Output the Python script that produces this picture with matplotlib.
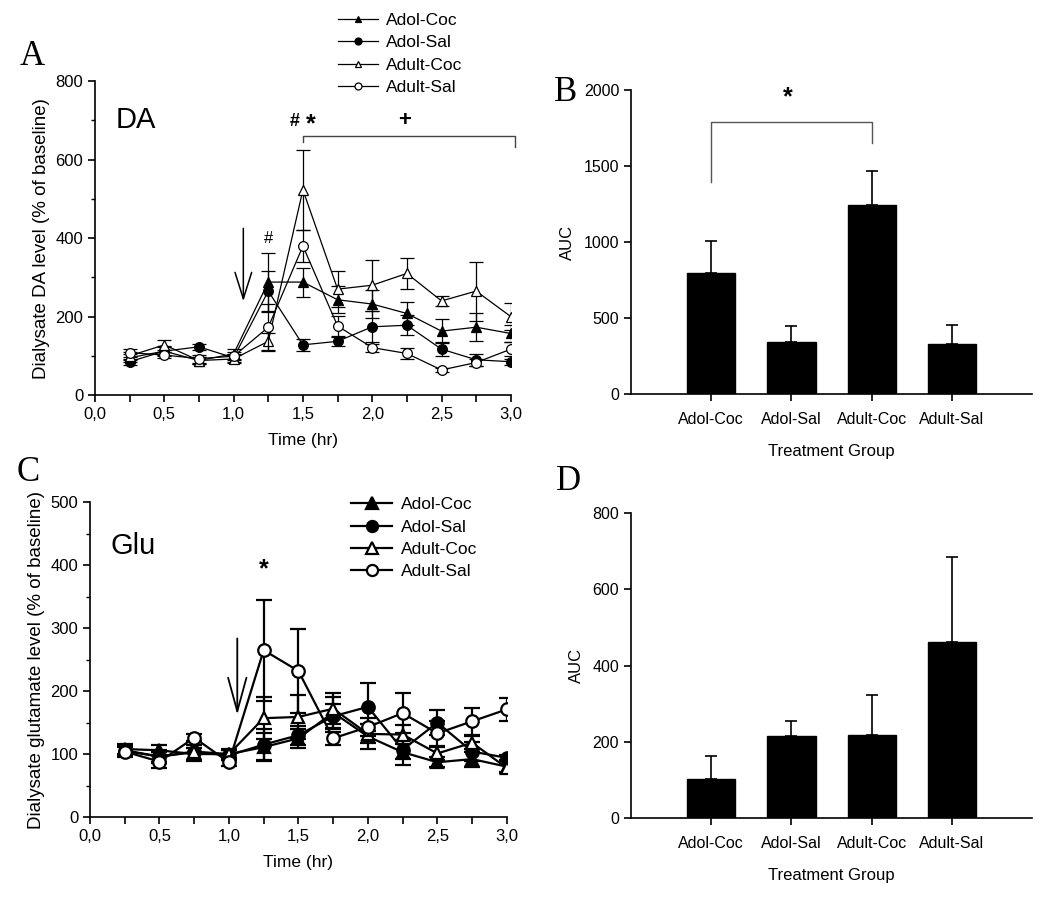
import numpy as np
import matplotlib.pyplot as plt
from matplotlib.lines import Line2D
from matplotlib.ticker import MultipleLocator, FuncFormatter

plt.rcParams['font.family'] = ['Liberation Sans', 'DejaVu Sans']

# time points (hr)
t = [0.25, 0.5, 0.75, 1.0, 1.25, 1.5, 1.75, 2.0, 2.25, 2.5, 2.75, 3.0]
groups = ['Adol-Coc', 'Adol-Sal', 'Adult-Coc', 'Adult-Sal']

# DA, % of baseline
adol_coc_da = [95, 112, 88, 105, 288, 288, 243, 232, 208, 163, 173, 157]
adol_coc_da_err = [10, 12, 8, 12, 75, 37, 35, 35, 30, 30, 35, 22]
adol_sal_da = [85, 112, 123, 95, 265, 128, 137, 174, 178, 117, 90, 85]
adol_sal_da_err = [8, 10, 8, 10, 50, 15, 12, 40, 25, 18, 15, 8]
adult_coc_da = [100, 128, 88, 92, 137, 523, 270, 280, 310, 240, 265, 200]
adult_coc_da_err = [10, 12, 8, 10, 22, 102, 45, 65, 40, 12, 75, 35]
adult_sal_da = [108, 102, 93, 99, 173, 380, 176, 121, 106, 64, 83, 117]
adult_sal_da_err = [10, 8, 10, 10, 60, 40, 25, 10, 15, 5, 10, 18]

# glutamate, % of baseline
adol_coc_glu = [108, 106, 100, 100, 111, 125, 166, 128, 103, 87, 92, 80]
adol_coc_glu_err = [8, 8, 10, 6, 22, 15, 25, 20, 20, 8, 12, 10]
adol_sal_glu = [105, 96, 103, 98, 115, 130, 160, 175, 107, 150, 104, 94]
adol_sal_glu_err = [8, 8, 12, 8, 25, 15, 20, 38, 15, 20, 15, 5]
adult_coc_glu = [106, 96, 104, 100, 157, 159, 172, 132, 131, 101, 118, 78]
adult_coc_glu_err = [8, 10, 15, 8, 33, 35, 25, 15, 15, 10, 10, 6]
adult_sal_glu = [104, 88, 126, 87, 265, 232, 125, 143, 165, 133, 152, 171]
adult_sal_glu_err = [8, 10, 6, 6, 80, 66, 10, 15, 32, 20, 21, 18]

# area under curve
auc_da = [795, 345, 1245, 330]
auc_da_err = [210, 105, 225, 128]
auc_glu = [102, 216, 218, 463]
auc_glu_err = [60, 39, 104, 222]

markers = ['^', 'o', '^', 'o']
faces = ['black', 'black', 'white', 'white']

fig = plt.figure(figsize=(10.5, 9.02), dpi=100)
axA = fig.add_axes([0.0905, 0.562, 0.396, 0.348])
axB = fig.add_axes([0.601, 0.563, 0.382, 0.337])
axC = fig.add_axes([0.0857, 0.0942, 0.397, 0.349])
axD = fig.add_axes([0.601, 0.0931, 0.382, 0.338])

comma = FuncFormatter(lambda v, p: ('%.1f' % v).replace('.', ','))


def line_panel(ax, series, errs, lw, ms, cap, ymax, ymaj, ymin):
    for i in range(4):
        ax.errorbar(t, series[i], yerr=errs[i], color='black', lw=lw,
                    marker=markers[i], mfc=faces[i], mec='black', mew=lw,
                    ms=ms, capsize=cap, capthick=lw, elinewidth=lw,
                    zorder=3 + i)
    ax.set_xlim(0, 3.0)
    ax.set_ylim(0, ymax)
    ax.xaxis.set_major_locator(MultipleLocator(0.5))
    ax.xaxis.set_minor_locator(MultipleLocator(0.25))
    ax.xaxis.set_major_formatter(comma)
    ax.yaxis.set_major_locator(MultipleLocator(ymaj))
    ax.yaxis.set_minor_locator(MultipleLocator(ymin))
    for s in ['top', 'right']:
        ax.spines[s].set_visible(False)
    for s in ['left', 'bottom']:
        ax.spines[s].set_linewidth(1.2)
    ax.tick_params(which='major', direction='out', length=5, width=1.2,
                   labelsize=12)
    ax.tick_params(axis='x', which='minor', direction='out', length=5, width=1.2)
    ax.tick_params(axis='y', which='minor', direction='out', length=3, width=1.0)
    ax.set_xlabel('Time (hr)', fontsize=12.5, labelpad=8)


def legend_handles(lw, ms):
    return [Line2D([], [], color='black', lw=lw, marker=markers[i],
                   mfc=faces[i], mec='black', mew=lw, ms=ms) for i in range(4)]


line_panel(axA, [adol_coc_da, adol_sal_da, adult_coc_da, adult_sal_da],
           [adol_coc_da_err, adol_sal_da_err, adult_coc_da_err, adult_sal_da_err],
           0.9, 7, 5, 800, 200, 100)
axA.set_ylabel('Dialysate DA level (% of baseline)', fontsize=13.5, labelpad=4)
axA.text(0.15, 700, 'DA', fontsize=21, va='center')
axA.text(1.25, 400, '#', fontsize=12, ha='center', va='center')
axA.text(1.44, 698, '#', fontsize=13, ha='center', va='center', fontweight='bold')
axA.text(1.56, 690, '*', fontsize=18, ha='center', va='center', fontweight='bold')
axA.text(2.23, 700, '+', fontsize=16, ha='center', va='center', fontweight='bold')
axA.plot([1.5, 1.5, 3.03, 3.03], [645, 660, 660, 633], color='#444444',
         lw=1.0, clip_on=False)
axA.annotate('', xy=(1.07, 232), xytext=(1.07, 432),
             arrowprops=dict(arrowstyle='->,head_length=0.95,head_width=0.3',
                             mutation_scale=20, lw=1.1, color='black'))
fig.legend(legend_handles(0.9, 5), groups, loc='upper left',
           bbox_to_anchor=(0.322, 0.986), frameon=False, fontsize=12.5,
           handlelength=2.3, handletextpad=0.45, labelspacing=0.42,
           borderpad=0, borderaxespad=0)

line_panel(axC, [adol_coc_glu, adol_sal_glu, adult_coc_glu, adult_sal_glu],
           [adol_coc_glu_err, adol_sal_glu_err, adult_coc_glu_err, adult_sal_glu_err],
           1.6, 9, 6, 500, 100, 50)
axC.set_ylabel('Dialysate glutamate level (% of baseline)', fontsize=13.5, labelpad=4)
axC.text(0.15, 430, 'Glu', fontsize=21, va='center')
axC.text(1.25, 393, '*', fontsize=18, ha='center', va='center', fontweight='bold')
axC.annotate('', xy=(1.06, 158), xytext=(1.06, 288),
             arrowprops=dict(arrowstyle='->,head_length=1.1,head_width=0.3',
                             mutation_scale=22, lw=1.3, color='black'))
fig.legend(legend_handles(1.6, 8), groups, loc='upper left',
           bbox_to_anchor=(0.334, 0.449), frameon=False, fontsize=12.5,
           handlelength=2.4, handletextpad=0.5, labelspacing=0.42,
           borderpad=0, borderaxespad=0)


def bar_panel(ax, vals, errs, ymax, ymaj):
    x = np.arange(len(groups))
    ax.bar(x, vals, width=0.6, color='black', edgecolor='black')
    ax.errorbar(x, vals, yerr=[np.zeros(len(vals)), errs], fmt='none',
                ecolor='black', elinewidth=1.2, capsize=4, capthick=1.2)
    ax.set_xlim(-1.0, 4.0)
    ax.set_ylim(0, ymax)
    ax.set_xticks(x)
    ax.set_xticklabels(groups)
    ax.yaxis.set_major_locator(MultipleLocator(ymaj))
    for s in ['top', 'right']:
        ax.spines[s].set_visible(False)
    for s in ['left', 'bottom']:
        ax.spines[s].set_linewidth(1.2)
    ax.tick_params(direction='out', length=5, width=1.2, labelsize=11.5)
    ax.tick_params(axis='x', pad=8)
    ax.set_xlabel('Treatment Group', fontsize=12, labelpad=12)
    ax.set_ylabel('AUC', fontsize=12, labelpad=6)


bar_panel(axB, auc_da, auc_da_err, 2000, 500)
axB.plot([0, 0, 2, 2], [1395, 1790, 1790, 1650], color='#555555', lw=1.0)
axB.text(0.95, 1955, '*', fontsize=18, ha='center', va='center', fontweight='bold')

bar_panel(axD, auc_glu, auc_glu_err, 800, 200)

# panel letters
for lab, x, y in [('A', 0.019, 0.928), ('B', 0.528, 0.888),
                  ('C', 0.016, 0.467), ('D', 0.529, 0.457)]:
    fig.text(x, y, lab, fontsize=25, family='Liberation Serif')

fig.savefig('out.png', dpi=100)
